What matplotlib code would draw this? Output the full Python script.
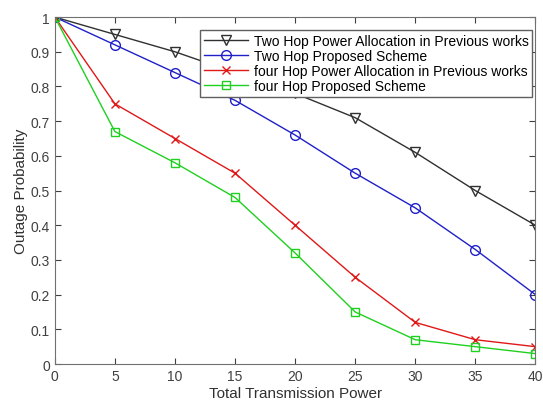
import numpy as np
import matplotlib
matplotlib.use("Agg")
import matplotlib.pyplot as plt

plt.rcParams['font.family'] = ['Liberation Sans', 'DejaVu Sans']

power = [0, 5, 10, 15, 20, 25, 30, 35, 40]
two_hop_prev = [1, 0.95, 0.90, 0.84, 0.78, 0.71, 0.61, 0.50, 0.40]
two_hop_prop = [1, 0.92, 0.84, 0.76, 0.66, 0.55, 0.45, 0.33, 0.20]
four_hop_prev = [1, 0.75, 0.65, 0.55, 0.40, 0.25, 0.12, 0.07, 0.05]
four_hop_prop = [1, 0.67, 0.58, 0.48, 0.32, 0.15, 0.07, 0.05, 0.03]

fig = plt.figure(figsize=(5.43, 4.02), dpi=100)
ax = fig.add_axes([0.101, 0.092, 0.885, 0.863])

ax.plot(power, two_hop_prev, color='#303030', marker='v', mfc='none', ms=7, lw=1,
        label='Two Hop Power Allocation in Previous works')
ax.plot(power, two_hop_prop, color='#2020c8', marker='o', mfc='none', ms=7, lw=1,
        label='Two Hop Proposed Scheme')
ax.plot(power, four_hop_prev, color='#e01818', marker='x', ms=6, lw=1,
        label='four Hop Power Allocation in Previous works')
ax.plot(power, four_hop_prop, color='#20d020', marker='s', mfc='none', ms=6, lw=1,
        label='four Hop Proposed Scheme')

ax.set_xlim(0, 40)
ax.set_ylim(0, 1)
ax.set_xticks(np.arange(0, 41, 5))
ax.set_yticks(np.arange(0, 1.01, 0.1))
ax.set_yticklabels(['0', '0.1', '0.2', '0.3', '0.4', '0.5', '0.6', '0.7', '0.8', '0.9', '1'])
ax.tick_params(direction='in', top=True, right=True, labelsize=10, colors='#404040',
               length=4)
for s in ax.spines.values():
    s.set_color('#707070')
ax.set_xlabel('Total Transmission Power', fontsize=11, color='#303030', labelpad=2)
ax.set_ylabel('Outage Probability', fontsize=11, color='#303030', labelpad=2)

leg = ax.legend(loc='upper right', bbox_to_anchor=(0.993, 0.962), fontsize=10,
                fancybox=False, edgecolor='#606060', framealpha=1,
                handlelength=3.2, handletextpad=0.4, borderpad=0.25,
                labelspacing=0.08, borderaxespad=0)
leg.get_frame().set_linewidth(1)

fig.savefig('out.png', dpi=100)
